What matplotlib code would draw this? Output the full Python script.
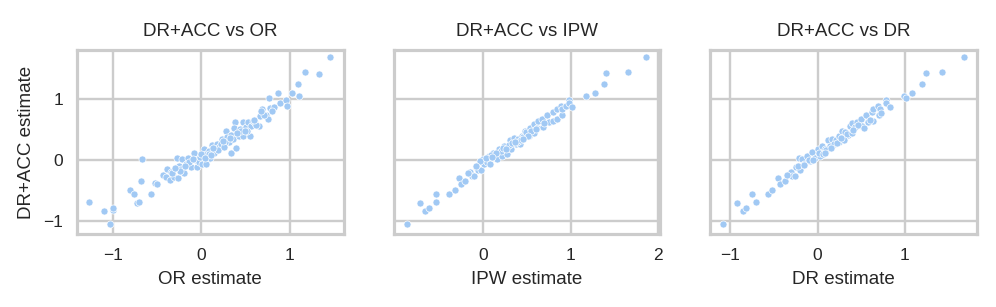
import matplotlib
matplotlib.use("Agg")
import matplotlib.pyplot as plt
import seaborn as sns

# DR+ACC vs OR
or_x = [-1.27, -1.10, -1.00, -1.00, -1.04, -0.81, -0.76, -0.73, -0.71, -0.67, -0.68,
        -0.53, -0.50, -0.57, -0.44, -0.40, -0.39, -0.36, -0.35, -0.31, -0.28, -0.27,
        -0.26, -0.23, -0.22, -0.20, -0.18, -0.15, -0.12, -0.09, -0.06, -0.05, -0.03,
        -0.01, 0.01, 0.03, 0.05, 0.07, 0.09, 0.05, 0.08, 0.10, 0.12, 0.16, 0.18, 0.20,
        0.23, 0.25, 0.28, 0.29, 0.31, 0.33, 0.34, 0.36, 0.38, 0.37, 0.39, 0.41, 0.42,
        0.44, 0.47, 0.47, 0.50, 0.53, 0.55, 0.56, 0.58, 0.61, 0.65, 0.66, 0.69, 0.73,
        0.75, 0.77, 0.78, 0.82, 0.87, 0.89, 0.96, 0.97, 1.03, 1.09, 1.11, 1.17, 1.33,
        1.46, -0.33, -0.24, -0.14, -0.02, 0.14, 0.22, 0.27, 0.45, 0.52, 0.62, 0.71,
        -0.30, -0.19, -0.10, 0.00, 0.04, 0.11, 0.19, 0.26, 0.32, 0.40, 0.49, 0.60,
        0.68, 0.80, 0.13, 0.24]
or_y = [-0.68, -0.83, -0.82, -0.79, -1.05, -0.49, -0.55, -0.70, -0.68, 0.02, -0.34,
        -0.38, -0.40, -0.56, -0.24, -0.27, -0.15, -0.32, -0.19, -0.28, 0.03, -0.30,
        -0.09, -0.15, 0.02, -0.21, -0.07, 0.04, -0.12, 0.11, 0.00, -0.12, -0.04,
        0.07, -0.07, 0.18, 0.10, 0.02, 0.15, -0.07, 0.10, 0.04, 0.25, 0.18, 0.26, 0.21,
        0.34, 0.26, 0.48, 0.37, 0.29, 0.11, 0.41, 0.34, 0.63, 0.52, 0.20, 0.45, 0.40,
        0.51, 0.63, 0.39, 0.54, 0.63, 0.39, 0.56, 0.64, 0.61, 0.55, 0.72, 0.84, 0.74,
        0.67, 1.01, 0.85, 0.86, 1.09, 0.93, 0.99, 0.89, 1.10, 1.25, 1.04, 1.44, 1.41,
        1.68, -0.22, -0.18, -0.03, 0.05, 0.12, 0.27, 0.30, 0.47, 0.48, 0.58, 0.74,
        -0.13, -0.10, 0.02, 0.10, 0.03, 0.08, 0.16, 0.22, 0.36, 0.44, 0.47, 0.66,
        0.80, 0.80, 0.20, 0.31]

# DR+ACC vs IPW
ipw_x = [-0.88, -0.73, -0.67, -0.63, -0.54, -0.54, -0.40, -0.33, -0.28, -0.26, -0.21,
         -0.15, -0.13, -0.11, -0.09, -0.06, -0.03, -0.01, 0.01, 0.04, 0.06, 0.08, 0.11,
         0.13, 0.16, 0.18, 0.21, 0.24, 0.27, 0.30, 0.32, 0.35, 0.37, 0.40, 0.44, 0.48,
         0.42, 0.46, 0.49, 0.52, 0.53, 0.58, 0.58, 0.62, 0.63, 0.67, 0.68, 0.73, 0.75,
         0.80, 0.80, 0.84, 0.85, 0.89, 0.90, 0.90, 0.95, 0.98, 0.98, 1.02, 1.18, 1.28,
         1.38, 1.41, 1.66, 1.87, -0.18, -0.04, 0.09, 0.20, 0.29, 0.38, 0.55, 0.70,
         -0.08, 0.03, 0.14, 0.23, 0.33, 0.43, 0.51, 0.60, 0.10, 0.26, 0.36, 0.46]
ipw_y = [-1.05, -0.70, -0.83, -0.79, -0.56, -0.68, -0.55, -0.49, -0.30, -0.40, -0.34,
         -0.20, -0.26, -0.26, -0.12, -0.17, -0.17, 0.02, -0.07, -0.04, 0.07, -0.07, 0.11,
         0.04, 0.02, 0.18, 0.07, 0.23, 0.10, 0.32, 0.18, 0.36, 0.26, 0.34, 0.39, 0.48,
         0.26, 0.37, 0.46, 0.40, 0.52, 0.59, 0.45, 0.52, 0.64, 0.67, 0.54, 0.74, 0.63,
         0.64, 0.79, 0.84, 0.67, 0.89, 0.74, 0.84, 0.88, 0.99, 0.93, 0.86, 1.04, 1.09,
         1.25, 1.42, 1.44, 1.68, -0.22, -0.02, 0.09, 0.14, 0.24, 0.30, 0.47, 0.60,
         -0.10, 0.03, 0.12, 0.20, 0.28, 0.33, 0.40, 0.50, 0.05, 0.18, 0.29, 0.35]

# DR+ACC vs DR
dr_x = [-1.08, -0.93, -0.86, -0.82, -0.75, -0.71, -0.57, -0.52, -0.45, -0.43, -0.37,
        -0.31, -0.29, -0.26, -0.25, -0.21, -0.20, -0.18, -0.15, -0.12, -0.09, -0.06,
        -0.03, 0.00, 0.03, 0.05, 0.09, 0.12, 0.14, 0.17, 0.21, 0.25, 0.28, 0.25, 0.29,
        0.32, 0.35, 0.37, 0.39, 0.43, 0.45, 0.50, 0.51, 0.56, 0.58, 0.62, 0.64, 0.64,
        0.69, 0.70, 0.72, 0.73, 0.78, 0.79, 0.83, 0.99, 1.01, 1.08, 1.20, 1.24, 1.43,
        1.68, -0.35, -0.23, -0.10, 0.02, 0.10, 0.19, 0.34, 0.47, 0.60,
        -0.16, -0.05, 0.06, 0.15, 0.22, 0.30, 0.40, 0.53, 0.08, 0.27, 0.41]
dr_y = [-1.05, -0.70, -0.83, -0.79, -0.56, -0.68, -0.55, -0.49, -0.30, -0.40, -0.34,
        -0.20, -0.26, -0.26, -0.12, 0.03, -0.17, 0.02, -0.07, 0.07, -0.01, 0.13,
        0.04, 0.18, 0.06, 0.23, 0.18, 0.32, 0.23, 0.34, 0.32, 0.39, 0.48, 0.29, 0.37,
        0.46, 0.41, 0.55, 0.61, 0.54, 0.63, 0.67, 0.55, 0.74, 0.63, 0.79, 0.64, 0.84,
        0.89, 0.73, 0.84, 0.77, 0.99, 0.93, 0.86, 1.04, 1.02, 1.09, 1.25, 1.42, 1.44,
        1.68, -0.24, -0.10, 0.00, 0.12, 0.16, 0.27, 0.43, 0.58, 0.66,
        -0.08, 0.00, 0.10, 0.20, 0.28, 0.33, 0.45, 0.52, 0.12, 0.36, 0.49]

panels = [
    ("DR+ACC vs OR", "OR estimate", or_x, or_y, [-1, 0, 1]),
    ("DR+ACC vs IPW", "IPW estimate", ipw_x, ipw_y, [0, 1, 2]),
    ("DR+ACC vs DR", "DR estimate", dr_x, dr_y, [-1, 0, 1]),
]

sns.set_theme(style="whitegrid")
plt.rcParams['font.family'] = ['Liberation Sans', 'DejaVu Sans']
plt.rcParams['axes.unicode_minus'] = True

fig, axes = plt.subplots(1, 3, figsize=(9.96, 3.07), dpi=100, sharey=True)
fig.subplots_adjust(left=0.0773, right=0.9809, top=0.837, bottom=0.238, wspace=0.188)

blue = sns.color_palette("pastel")[0]
for ax, (title, xlabel, xs, ys, xt) in zip(axes, panels):
    ax.scatter(xs, ys, s=26, color=blue, edgecolor="white", linewidth=0.5, zorder=3)
    ax.set_title(title, fontsize=13.5, pad=10, color=".15")
    ax.set_xlabel(xlabel, fontsize=13.5, labelpad=6, color=".15")
    ax.set_xticks(xt)
    ax.tick_params(labelsize=12.5, colors=".15", pad=4)
    ax.grid(True, color=".8", linewidth=1.7)
    for sp in ax.spines.values():
        sp.set_color(".8")
        sp.set_linewidth(2.3)

axes[0].set_yticks([-1, 0, 1])
axes[0].set_ylabel("DR+ACC estimate", fontsize=13.5, labelpad=6, color=".15")
axes[0].set_xlim(-1.41, 1.61)
axes[1].set_xlim(-1.03, 2.03)
axes[2].set_xlim(-1.23, 1.83)
axes[0].set_ylim(-1.21, 1.80)

fig.savefig("out.png", dpi=100)
